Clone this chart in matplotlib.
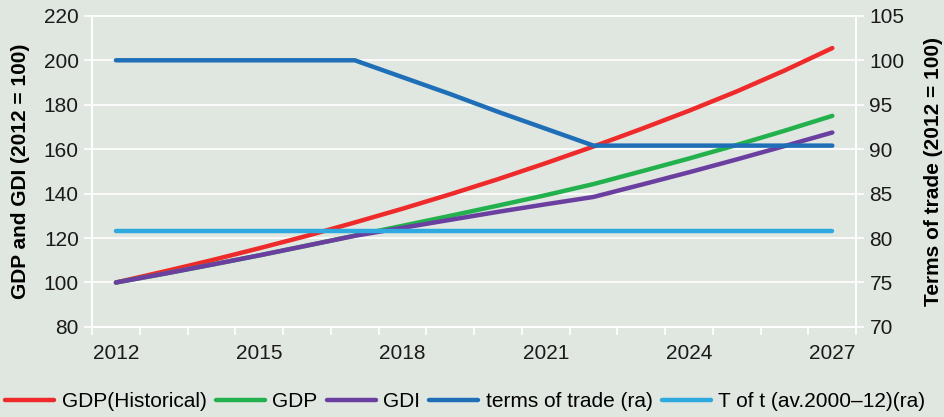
import numpy as np
import matplotlib.pyplot as plt
from matplotlib.ticker import FixedLocator

plt.rcParams['font.family'] = ['Liberation Sans', 'DejaVu Sans']

# data
years = np.arange(2012, 2028)
gdp_hist = [100, 104.9, 110.0, 115.4, 121.0, 127.0, 133.2, 139.7, 146.5, 153.7,
            161.2, 169.1, 177.3, 186.0, 195.4, 205.5]
gdp = [100, 103.9, 108.0, 112.2, 116.6, 121.1, 125.5, 130.0, 134.6, 139.3,
       144.3, 150.0, 155.8, 161.9, 168.3, 175.0]
gdi = [100, 103.9, 108.0, 112.2, 116.6, 121.0, 124.6, 128.2, 131.8, 135.2,
       138.5, 144.0, 149.6, 155.4, 161.4, 167.5]
tot = [100, 100, 100, 100, 100, 100, 98.1, 96.2, 94.2, 92.3,
       90.4, 90.4, 90.4, 90.4, 90.4, 90.4]
tot_avg = [80.8] * len(years)

bg = '#e0e6e0'
c_red, c_green, c_purple = '#ee2a2a', '#22b14c', '#6b3fa0'
c_blue, c_lblue = '#1f6fb8', '#2eaae1'

fig = plt.figure(figsize=(9.44, 4.17), dpi=100, facecolor=bg)
ax = fig.add_axes([0.0975, 0.216, 0.8095, 0.746])
ax.set_facecolor(bg)
ax2 = ax.twinx()

lw = 3.2
l1, = ax.plot(years, gdp_hist, color=c_red, lw=lw, solid_capstyle='round', label='GDP(Historical)')
l2, = ax.plot(years, gdp, color=c_green, lw=lw, solid_capstyle='round', label='GDP')
l3, = ax.plot(years, gdi, color=c_purple, lw=lw, solid_capstyle='round', label='GDI')
l4, = ax2.plot(years, tot, color=c_blue, lw=lw, solid_capstyle='round', label='terms of trade (ra)')
l5, = ax2.plot(years, tot_avg, color=c_lblue, lw=lw, solid_capstyle='round', label='T of t (av.2000\u201312)(ra)')

ax.set_xlim(2011.5, 2027.5)
ax.set_ylim(80, 220)
ax2.set_ylim(70, 105)
ax.set_yticks(np.arange(80, 221, 20))
ax2.set_yticks(np.arange(70, 106, 5))
ax.set_xticks(np.arange(2012, 2028, 3))
ax.xaxis.set_minor_locator(FixedLocator(np.arange(2011.5, 2028, 1)))
ax.grid(axis='y', color='white', lw=1.2)
ax.set_axisbelow(True)

for a in (ax, ax2):
    for s in a.spines.values():
        s.set_color('white')
        s.set_linewidth(1.2)
    a.tick_params(axis='y', colors='white', length=6, width=1.2, labelcolor='#1a1a1a', labelsize=15)
ax.tick_params(axis='x', which='major', length=0, labelsize=15, labelcolor='#1a1a1a', pad=12)
ax.tick_params(axis='x', which='minor', length=6, width=1.2, colors='white')

ax.set_ylabel('GDP and GDI (2012 = 100)', fontsize=15, fontweight='bold', labelpad=10)
ax2.set_ylabel('Terms of trade (2012 = 100)', fontsize=15, fontweight='bold',
               rotation=90, labelpad=14)

fig.legend(handles=[l1, l2, l3, l4, l5], loc='center', bbox_to_anchor=(0.493, 0.036),
           ncol=5, frameon=False, fontsize=15, handlelength=2.35, handletextpad=0.35,
           columnspacing=0.45, borderaxespad=0)

fig.savefig('out.png', dpi=100, facecolor=bg)
